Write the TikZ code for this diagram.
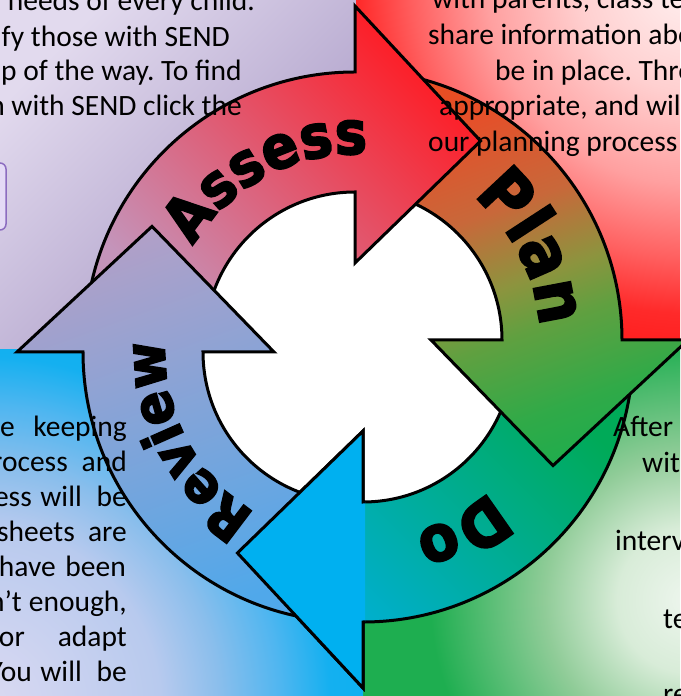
\documentclass[tikz,border=0pt]{standalone}
\usepackage{fontspec}
\setmainfont{Carlito}
\newfontfamily\labelfont{DejaVu Sans Bold}[FakeStretch=0.9,FakeBold=3]
\usetikzlibrary{calc,decorations.text}
\definecolor{tlA}{HTML}{E2DAEE}\definecolor{tlM}{HTML}{C4B6D8}\definecolor{tlB}{HTML}{A494C2}
\definecolor{rA}{HTML}{FFF2F2}\definecolor{rB}{HTML}{FFD0D0}\definecolor{rC}{HTML}{FFA0A0}\definecolor{rD}{HTML}{FF6060}\definecolor{rE}{HTML}{FF2A2A}\definecolor{rF}{HTML}{FF1E1E}
\definecolor{gA}{HTML}{EEF6EE}\definecolor{gB}{HTML}{D8ECD8}\definecolor{gC}{HTML}{90CC98}\definecolor{gD}{HTML}{1EAE50}
\definecolor{bA}{HTML}{DCDAF2}\definecolor{bB}{HTML}{B8CAEE}\definecolor{bC}{HTML}{8ABEEC}\definecolor{bD}{HTML}{50B6F0}\definecolor{bE}{HTML}{14B0F0}\definecolor{bF}{HTML}{0CB0F0}
\definecolor{asTop}{HTML}{FF1A22}\definecolor{asMid}{HTML}{E26A88}\definecolor{asBot}{HTML}{C494BA}
\definecolor{plTop}{HTML}{E84E24}\definecolor{plA}{HTML}{E4502A}\definecolor{plB}{HTML}{C8683A}\definecolor{plC}{HTML}{8C943E}\definecolor{plD}{HTML}{60A040}\definecolor{plE}{HTML}{30AA48}\definecolor{plBot}{HTML}{22AC4C}
\definecolor{doTop}{HTML}{00AA58}\definecolor{doBot}{HTML}{00B0E6}\definecolor{doHead}{HTML}{00B0F0}
\definecolor{rvTop}{HTML}{B0A0C8}\definecolor{rvBot}{HTML}{50A8EA}
\definecolor{boxFill}{HTML}{E4DAF6}\definecolor{boxLine}{HTML}{8C6CC0}
\pgfdeclareradialshading{redglow}{\pgfpoint{0bp}{0bp}}{color(0bp)=(rA); color(7.5bp)=(rB); color(13.75bp)=(rC); color(18.75bp)=(rD); color(22.5bp)=(rE); color(25bp)=(rF); color(50bp)=(rF)}
\pgfdeclareradialshading{greenglow}{\pgfpoint{0bp}{0bp}}{color(0bp)=(gA); color(7bp)=(gB); color(14bp)=(gC); color(25bp)=(gD); color(50bp)=(gD)}
\pgfdeclareradialshading{blueglow}{\pgfpoint{0bp}{0bp}}{color(0bp)=(bA); color(11.25bp)=(bB); color(15bp)=(bC); color(18.75bp)=(bD); color(21.9bp)=(bE); color(25bp)=(bF); color(50bp)=(bF)}
\pgfdeclareverticalshading{plangrad}{100bp}{color(0bp)=(plBot); color(25bp)=(plBot); color(31bp)=(plE); color(42bp)=(plD); color(48.5bp)=(plC); color(58.6bp)=(plB); color(71bp)=(plA); color(75bp)=(plTop); color(100bp)=(plTop)}
% ring arrow: #1 centre, #2 tail angle, #3 head back angle
\newcommand\ringarrowpath[3]{($(#1)+(#2:270)$) arc[start angle=#2, end angle=#3, radius=270]
  -- ($(#1)+(#3:336)$) -- ($(#1)+(#3-32:237)$) -- ($(#1)+(#3:79)$) -- ($(#1)+(#3:150)$)
  arc[start angle=#3, end angle=#2, radius=150] -- cycle}
\tikzset{
  arrowline/.style={draw=black, line width=3pt, line join=miter},
  qtext/.style={inner sep=0pt, font=\fontsize{29.5}{35}\selectfont},
  lbl/.style={decorate, decoration={text along path, text align=center, text={#1}}}
}
\frenchspacing
\begin{document}
\begin{tikzpicture}[x=1pt,y=1pt]
\useasboundingbox (0,0) rectangle (680,696);
% quadrant backgrounds
\begin{scope}
  \clip (0,346) rectangle (356,696);
  \shade[top color=tlA, middle color=tlM, bottom color=tlB, shading angle=45] (0,346) rectangle (356,696);
\end{scope}
\begin{scope}
  \clip (356,353) rectangle (680,696);
  \fill[rF] (356,353) rectangle (680,696);
  \shade[shading=redglow] (690,716) circle[radius=370];
\end{scope}
\begin{scope}
  \clip (363,0) rectangle (680,353);
  \fill[gD] (363,0) rectangle (680,353);
  \shade[shading=greenglow] (690,96) circle[radius=260];
\end{scope}
\begin{scope}
  \clip (0,0) rectangle (363,346);
  \fill[bF] (0,0) rectangle (363,346);
  \shade[shading=blueglow] (-20,-10) circle[radius=400];
\end{scope}
% partly visible button at the left edge
\draw[boxLine, line width=1.5pt, fill=boxFill, rounded corners=6pt] (-20,466) rectangle (6,533);
% centre
\coordinate (CA) at (355,354);
\coordinate (CP) at (352,356);
\coordinate (CD) at (363,344);
\coordinate (CR) at (353,344);
\fill[white] (356,348) circle[radius=200];
% arrows
\path[arrowline, top color=doTop, bottom color=doBot, shading angle=-45] \ringarrowpath{CD}{-5}{-90};
\path[arrowline, shading=plangrad, shading angle=20] \ringarrowpath{CP}{85}{0};
\path[arrowline, top color=asTop, middle color=asMid, bottom color=asBot, shading angle=-45] \ringarrowpath{CA}{175}{90};
\path[arrowline, top color=rvTop, bottom color=rvBot, shading angle=20] \ringarrowpath{CR}{265}{180};
\begin{scope}
  \clip (-10,-10) rectangle (365,300);
  \path[arrowline, fill=doHead] \ringarrowpath{CD}{-5}{-90};
\end{scope}
% labels along the ring
\path[lbl={|\labelfont\fontsize{60}{60}\selectfont|Assess}] ($(CA)+(157.8:188)$) arc[start angle=157.8, end angle=77.8, radius=188];
\path[lbl={|\labelfont\fontsize{68}{68}\selectfont|Plan}] ($(CP)+(67:188)$) arc[start angle=67, end angle=-13, radius=188];
\path[lbl={|\labelfont\fontsize{64}{64}\selectfont|Do}] ($(CD)+(-31:188)$) arc[start angle=-31, end angle=-91, radius=188];
\path[lbl={|\labelfont\fontsize{56}{56}\selectfont|Review}] ($(CR)+(247.7:188)$) arc[start angle=247.7, end angle=167.7, radius=188];
% top-left text
\node[qtext, anchor=base east] (tl1) at (255,685) {n needs of every child.};
\node[qtext, anchor=base east] (tl2) at (230,649.3) {ify those with SEND};
\node[qtext, anchor=base east] (tl3) at (242,615) {p of the way. To find};
\node[qtext, anchor=base east] (tl4) at (242,580) {n with SEND click the};
% top-right text
\node[qtext, anchor=base west] (tr1) at (432,687) {with parents, class te};
\node[qtext, anchor=base west] (tr2) at (428,651) {share information abo};
\node[qtext, anchor=base west] (tr3) at (495,615.5) {be in place. Thro};
\node[qtext, anchor=base west] (tr4) at (439,580) {appropriate, and wil};
\node[qtext, anchor=base west] (tr5) at (428,544.5) {our planning process};
% bottom-left text (justified)
\node[qtext, anchor=base east] (bl1a) at (15,259) {be};
\node[qtext, anchor=base east] (bl1b) at (127,259) {keeping};
\node[qtext, anchor=base east] (bl2a) at (68,224) {rocess};
\node[qtext, anchor=base east] (bl2b) at (127,224) {and};
\node[qtext, anchor=base east] (bl3a) at (32,189) {ess};
\node[qtext, anchor=base east] (bl3b) at (82,189) {will};
\node[qtext, anchor=base east] (bl3c) at (127,189) {be};
\node[qtext, anchor=base east] (bl4a) at (75,154) {sheets};
\node[qtext, anchor=base east] (bl4b) at (127,154) {are};
\node[qtext, anchor=base east] (bl5a) at (56,119) {have};
\node[qtext, anchor=base east] (bl5b) at (126,119) {been};
\node[qtext, anchor=base east] (bl6a) at (22,84) {n’t};
\node[qtext, anchor=base east] (bl6b) at (127,84) {enough,};
\node[qtext, anchor=base east] (bl7a) at (25,49) {or};
\node[qtext, anchor=base east] (bl7b) at (127,49) {adapt};
\node[qtext, anchor=base east] (bl8a) at (32,14) {You};
\node[qtext, anchor=base east] (bl8b) at (82,14) {will};
\node[qtext, anchor=base east] (bl8c) at (127,14) {be};
% bottom-right text
\node[qtext, anchor=base west] (br1) at (613,259) {After};
\node[qtext, anchor=base west] (br2) at (642,223) {wit};
\node[qtext, anchor=base west] (br3) at (615,145) {interv};
\node[qtext, anchor=base west] (br4) at (663,67) {te};
\node[qtext, anchor=base west] (br5) at (663,-7) {re};
\end{tikzpicture}
\end{document}
